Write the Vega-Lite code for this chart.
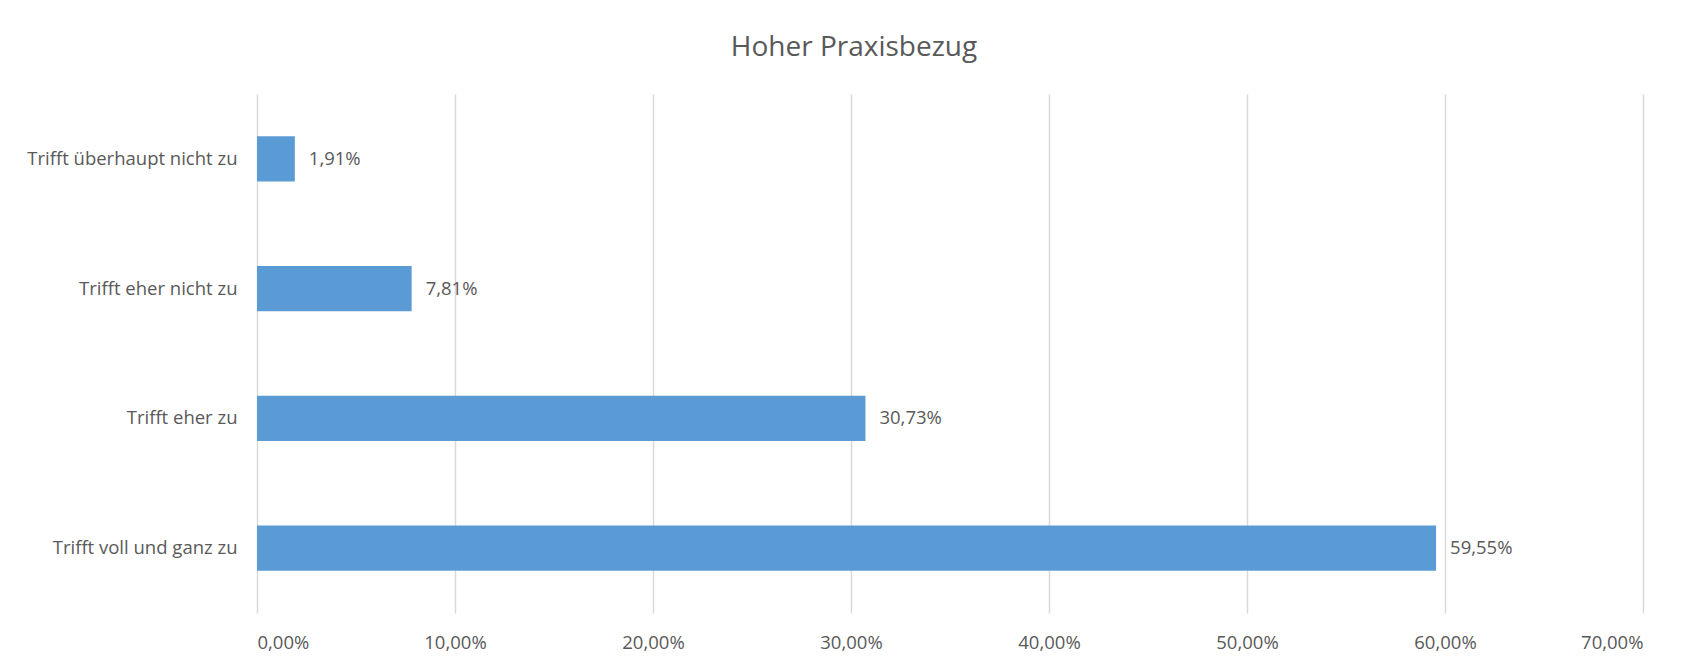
{
  "$schema": "https://vega.github.io/schema/vega-lite/v6.json",
  "autosize": "none",
  "width": 1386,
  "height": 519,
  "padding": {"left": 257, "top": 94, "right": 52, "bottom": 52},
  "background": "white",
  "config": {
    "view": {"stroke": null},
    "font": "Open Sans",
    "locale": {"number": {"decimal": ",", "thousands": ".", "grouping": [3], "currency": ["", " €"]}}
  },
  "title": {
    "text": "Hoher Praxisbezug",
    "font": "Open Sans",
    "fontSize": 28,
    "fontWeight": "normal",
    "color": "#595959",
    "anchor": "middle",
    "dx": -96,
    "offset": 18,
    "baseline": "middle"
  },
  "data": {
    "values": [
      {"kategorie": "Trifft überhaupt nicht zu", "anteil": 0.0191},
      {"kategorie": "Trifft eher nicht zu", "anteil": 0.0781},
      {"kategorie": "Trifft eher zu", "anteil": 0.3073},
      {"kategorie": "Trifft voll und ganz zu", "anteil": 0.5955}
    ]
  },
  "encoding": {
    "y": {
      "field": "kategorie",
      "type": "nominal",
      "sort": null,
      "title": null,
      "scale": {"paddingInner": 0.65, "paddingOuter": 0.325},
      "axis": {
        "domain": false,
        "ticks": false,
        "labelPadding": 20,
        "labelLimit": 400,
        "labelFontSize": 18.5,
        "labelColor": "#595959",
        "labelFont": "Open Sans"
      }
    },
    "x": {
      "field": "anteil",
      "type": "quantitative",
      "title": null,
      "scale": {"domain": [0, 0.7], "nice": false},
      "axis": {
        "values": [0, 0.1, 0.2, 0.3, 0.4, 0.5, 0.6, 0.7],
        "format": ".2%",
        "domain": false,
        "ticks": false,
        "grid": true,
        "gridColor": "#D9D9D9",
        "gridWidth": 1.5,
        "labelPadding": 20,
        "labelFontSize": 18.5,
        "labelColor": "#595959",
        "labelFont": "Open Sans"
      }
    }
  },
  "layer": [
    {"mark": {"type": "bar", "color": "#5B9BD5"}},
    {
      "mark": {"type": "text", "align": "left", "baseline": "middle", "dx": 14, "fontSize": 18.5, "color": "#595959", "font": "Open Sans"},
      "encoding": {"text": {"field": "anteil", "type": "quantitative", "format": ".2%"}}
    }
  ]
}
